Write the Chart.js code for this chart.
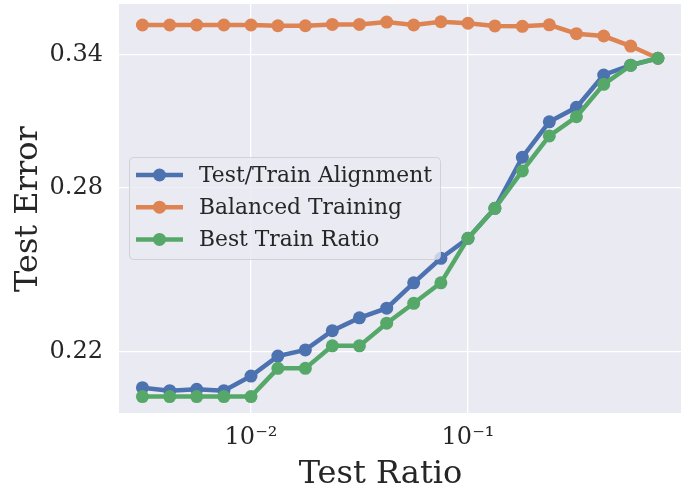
<!DOCTYPE html>
<html>
<head>
<meta charset="utf-8">
<script src="https://cdn.jsdelivr.net/npm/chart.js@4/dist/chart.umd.min.js"></script>
<style>
  html, body { margin: 0; padding: 0; background: #ffffff; }
  #wrap { width: 681px; height: 488px; }
</style>
</head>
<body>
<div id="wrap"><canvas id="errChart" width="681" height="488"></canvas></div>
<script>
// test ratio (x, log scale)
var testRatio = [0.00316, 0.00422, 0.00562, 0.0075, 0.01, 0.0133, 0.0178, 0.0237, 0.0316, 0.0422,
  0.0562, 0.075, 0.1, 0.133, 0.178, 0.237, 0.316, 0.422, 0.562, 0.75];

var alignmentErr = [0.2088, 0.2079, 0.2083, 0.2079, 0.2124, 0.2187, 0.2207, 0.2270, 0.2313, 0.2346,
  0.2435, 0.2524, 0.2599, 0.2716, 0.2927, 0.3083, 0.3149, 0.3302, 0.3350, 0.3384];
var balancedErr = [0.3553, 0.3553, 0.3553, 0.3553, 0.3553, 0.3549, 0.3549, 0.3556, 0.3556, 0.3568,
  0.3553, 0.3570, 0.3562, 0.3548, 0.3546, 0.3554, 0.3508, 0.3496, 0.3445, 0.3384];
var bestRatioErr = [0.2061, 0.2061, 0.2061, 0.2061, 0.2061, 0.2148, 0.2148, 0.2220, 0.2220, 0.2295,
  0.2363, 0.2435, 0.2599, 0.2716, 0.2869, 0.3020, 0.3106, 0.3257, 0.3349, 0.3384];

var seriesNames = ['Test/Train Alignment', 'Balanced Training', 'Best Train Ratio'];

var xTicks = [0.01, 0.1];
var xTickLabels = ['10\u207B\u00B2', '10\u207B\u00B9'];
var yTicks = [0.22, 0.28, 0.34];
var yTickLabels = ['0.22', '0.28', '0.34'];

var xTitle = 'Test Ratio';
var yTitle = 'Test Error';

var FONT = '"DejaVu Serif", serif';
var TEXT = '#262626';

function toPoints(ys) {
  return ys.map(function (y, i) { return { x: testRatio[i], y: y }; });
}

function lineSet(label, ys, color, order) {
  return {
    label: label,
    data: toPoints(ys),
    borderColor: color,
    backgroundColor: color,
    borderWidth: 4.5,
    pointRadius: 6.5,
    pointBorderWidth: 0,
    pointHoverRadius: 6.5,
    tension: 0,
    order: order
  };
}

// no extra room for tick labels, the plot box is fixed
function noPad(scale) {
  scale.paddingTop = 0;
  scale.paddingBottom = 0;
  scale.paddingLeft = 0;
  scale.paddingRight = 0;
}

// seaborn darkgrid background
var plotBg = {
  id: 'plotBg',
  beforeDraw(chart) {
    var a = chart.chartArea, ctx = chart.ctx;
    ctx.save();
    ctx.fillStyle = '#EAEAF2';
    ctx.fillRect(a.left, a.top, a.right - a.left, a.bottom - a.top);
    ctx.restore();
  }
};

// legend box in the middle-left of the plot, and the axis titles
var overlay = {
  id: 'overlay',
  afterDraw(chart) {
    var ctx = chart.ctx;
    ctx.save();
    ctx.beginPath();
    ctx.roundRect(129.5, 157.5, 311, 102, 4);
    ctx.fillStyle = 'rgba(234,234,242,0.8)';
    ctx.fill();
    ctx.strokeStyle = 'rgba(204,204,204,0.8)';
    ctx.lineWidth = 1;
    ctx.stroke();

    ctx.font = '21.8px ' + FONT;
    ctx.textBaseline = 'middle';
    ctx.textAlign = 'left';
    chart.data.datasets.forEach(function (ds, i) {
      var y = 175 + i * 32.2;
      ctx.strokeStyle = ds.borderColor;
      ctx.lineWidth = 4.5;
      ctx.beginPath();
      ctx.moveTo(136, y);
      ctx.lineTo(183, y);
      ctx.stroke();
      ctx.fillStyle = ds.borderColor;
      ctx.beginPath();
      ctx.arc(159.5, y, 6.5, 0, Math.PI * 2);
      ctx.fill();
      ctx.fillStyle = TEXT;
      ctx.fillText(ds.label, 199, y + 1);
    });

    ctx.font = '32px ' + FONT;
    ctx.fillStyle = TEXT;
    ctx.textAlign = 'center';
    ctx.textBaseline = 'alphabetic';
    ctx.fillText(xTitle, 380.5, 482.5);

    ctx.translate(37, 209);
    ctx.rotate(-Math.PI / 2);
    ctx.fillText(yTitle, 0, 0);
    ctx.restore();
  }
};

var ctx = document.getElementById('errChart').getContext('2d');
var errChart = new Chart(ctx, {
  type: 'line',
  data: {
    datasets: [
      lineSet(seriesNames[0], alignmentErr, '#4C72B0', 2),
      lineSet(seriesNames[1], balancedErr, '#DD8452', 1),
      lineSet(seriesNames[2], bestRatioErr, '#55A868', 0)
    ]
  },
  options: {
    responsive: false,
    animation: false,
    layout: { autoPadding: false, padding: { top: 4, right: 0, left: 0, bottom: 0 } },
    plugins: {
      legend: { display: false },
      tooltip: { enabled: false }
    },
    scales: {
      x: {
        type: 'logarithmic',
        min: 0.002464,
        max: 0.9584,
        border: { display: false },
        grid: { color: '#ffffff', lineWidth: 1.3, drawTicks: false },
        afterBuildTicks(scale) {
          scale.ticks = xTicks.map(function (v) { return { value: v }; });
        },
        afterFit(scale) { scale.height = 75; noPad(scale); },
        ticks: {
          autoSkip: false,
          maxRotation: 0,
          padding: 10,
          color: TEXT,
          font: { family: FONT, size: 24 },
          callback: function (value, index) { return xTickLabels[index]; }
        }
      },
      y: {
        type: 'logarithmic',
        min: 0.2012,
        max: 0.3664,
        border: { display: false },
        grid: { color: '#ffffff', lineWidth: 1.3, drawTicks: false },
        afterBuildTicks(scale) {
          scale.ticks = yTicks.map(function (v) { return { value: v }; });
        },
        afterFit(scale) { scale.width = 119; noPad(scale); },
        ticks: {
          autoSkip: false,
          padding: 16,
          color: TEXT,
          font: { family: FONT, size: 24 },
          callback: function (value, index) { return yTickLabels[index]; }
        }
      }
    }
  },
  plugins: [plotBg, overlay]
});
</script>
</body>
</html>
